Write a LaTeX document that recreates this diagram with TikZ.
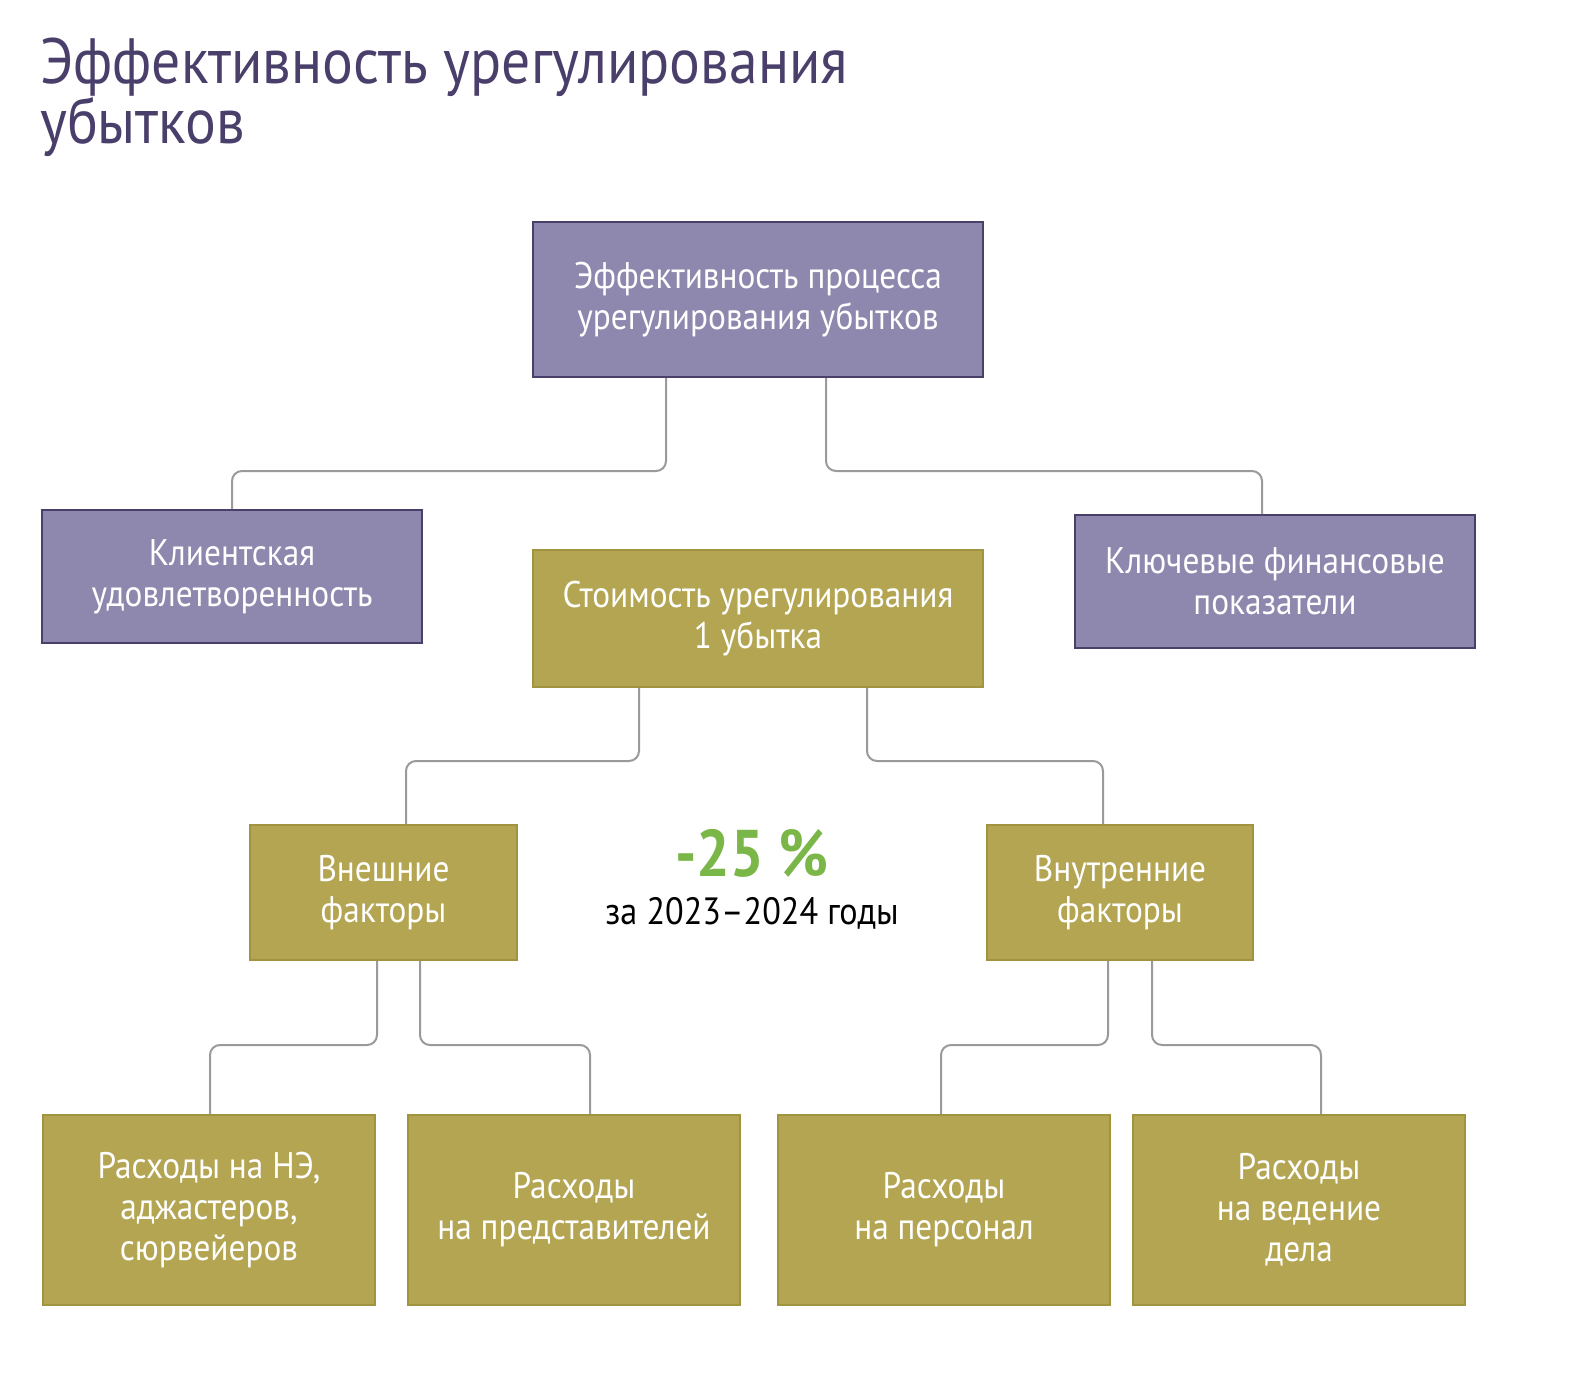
\documentclass[tikz,border=0pt]{standalone}
\usepackage{fontspec}
\setmainfont[FakeStretch=0.9]{PT Sans}
\usetikzlibrary{calc}
\definecolor{purp}{HTML}{8E88AE}
\definecolor{purpd}{HTML}{4A3F6B}
\definecolor{oliv}{HTML}{B3A552}
\definecolor{olivd}{HTML}{A09440}
\definecolor{grn}{HTML}{7AB648}
\definecolor{ln}{HTML}{9A9A9A}
\tikzset{
 pbox/.style={draw=purpd,line width=2pt,fill=purp,text=white,align=center,font=\fontsize{37}{41}\selectfont,inner sep=0pt},
 obox/.style={draw=olivd,line width=2pt,fill=oliv,text=white,align=center,font=\fontsize{37}{41}\selectfont,inner sep=0pt},
 conn/.style={draw=ln,line width=2pt,rounded corners=10pt}
}
\begin{document}
\begin{tikzpicture}[x=1pt,y=-1pt]
\useasboundingbox[fill=white] (0,0) rectangle (1584,1383);
\node[anchor=north west,text=purpd,align=left,font=\fontsize{64}{60}\selectfont,inner sep=0pt] (title) at (40,38) {Эффективность урегулирования\\убытков};
\newcommand\mybox[7]{\node[#1,minimum width=#4-#2,minimum height=#5-#3] (#6) at ({(#2+#4)/2},{(#3+#5)/2}) {#7};}
\mybox{pbox}{533}{222}{983}{377}{top}{Эффективность процесса\\урегулирования убытков}
\mybox{pbox}{42}{510}{422}{643}{kl}{Клиентская\\удовлетворенность}
\mybox{pbox}{1075}{515}{1475}{648}{fin}{Ключевые финансовые\\показатели}
\mybox{obox}{533}{550}{983}{687}{cost}{Стоимость урегулирования\\1 убытка}
\mybox{obox}{250}{825}{517}{960}{ext}{Внешние\\факторы}
\mybox{obox}{987}{825}{1253}{960}{int}{Внутренние\\факторы}
\mybox{obox}{43}{1115}{375}{1305}{b1}{Расходы на НЭ,\\аджастеров,\\сюрвейеров}
\mybox{obox}{408}{1115}{740}{1305}{b2}{Расходы\\на представителей}
\mybox{obox}{778}{1115}{1110}{1305}{b3}{Расходы\\на персонал}
\mybox{obox}{1133}{1115}{1465}{1305}{b4}{Расходы\\на ведение\\дела}
\node[text=grn,font=\bfseries\fontsize{66}{66}\selectfont] (pct) at (752,853) {-25 \%};
\node[font=\fontsize{38}{40}\selectfont] (yrs) at (752,913) {за 2023–2024 годы};
\draw[conn] ($(top.south west)+(134,0)$) |- (232,471) -- (kl.north -| 232,0);
\draw[conn] ($(top.south west)+(294,0)$) |- (1262,471) -- (fin.north -| 1262,0);
\draw[conn] ($(cost.south west)+(107,0)$) |- (406,761) -- (ext.north -| 406,0);
\draw[conn] ($(cost.south west)+(335,0)$) |- (1103,761) -- (int.north -| 1103,0);
\draw[conn] ($(ext.south west)+(128,0)$) |- (210,1045) -- (b1.north -| 210,0);
\draw[conn] ($(ext.south west)+(171,0)$) |- (590,1045) -- (b2.north -| 590,0);
\draw[conn] ($(int.south west)+(122,0)$) |- (941,1045) -- (b3.north -| 941,0);
\draw[conn] ($(int.south west)+(166,0)$) |- (1321,1045) -- (b4.north -| 1321,0);
\end{tikzpicture}
\end{document}
